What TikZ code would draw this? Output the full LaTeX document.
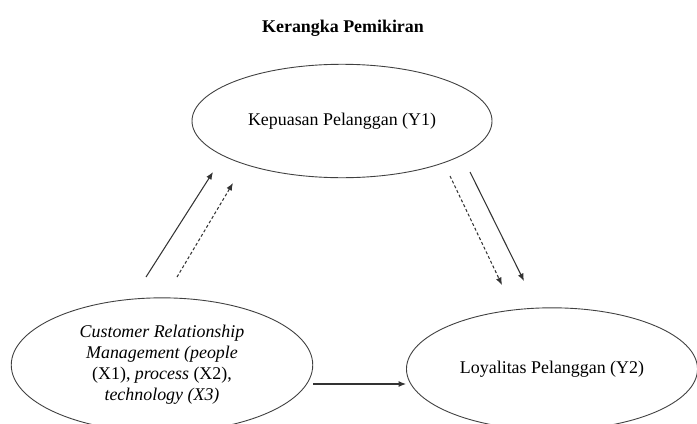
\documentclass[tikz,border=0pt]{standalone}
\usepackage{fontspec}
\setmainfont{Liberation Serif}
\usetikzlibrary{arrows.meta,shapes.geometric}
\tikzset{
  varbox/.style={draw=black!75,ellipse,line width=0.6pt,align=center,font=\fontsize{12}{14}\selectfont},
  arr/.style={draw=black!80,line width=0.7pt,-{Latex[length=5pt,width=4pt]}},
  dasharr/.style={arr,dash pattern=on 2pt off 1.5pt}
}
\begin{document}
\begin{tikzpicture}[x=0.67pt,y=-0.67pt]
    \useasboundingbox (0,0) rectangle (697,423);
    \node[font=\fontsize{12}{14}\selectfont\bfseries] (judul) at (343,28) {Kerangka Pemikiran};
    \node[varbox,minimum width=201pt,minimum height=76pt] (y1) at (342,121) {Kepuasan Pelanggan (Y1)};
    \node[varbox,minimum width=202pt,minimum height=90pt] (x) at (162,365)
      {\textit{Customer Relationship}\\ \textit{Management (people}\\ (X1), \textit{process} (X2),\\ \textit{technology (X3)}};
    \node[varbox,minimum width=195pt,minimum height=82pt] (y2) at (552,369) {Loyalitas Pelanggan (Y2)};
    % ujung panah
    \coordinate (a1) at (146,277);
    \coordinate (a2) at (213,172);
    \coordinate (b1) at (177,277);
    \coordinate (b2) at (233,183);
    \coordinate (c1) at (470,172);
    \coordinate (c2) at (524,281);
    \coordinate (d1) at (450,176);
    \coordinate (d2) at (502,285);
    \draw[arr] (a1) -- (a2);
    \draw[dasharr] (b1) -- (b2);
    \draw[arr] (c1) -- (c2);
    \draw[dasharr] (d1) -- (d2);
    \draw[arr] (x.east |- 0,384) -- (y2.west |- 0,384);
  \end{tikzpicture}
\end{document}
